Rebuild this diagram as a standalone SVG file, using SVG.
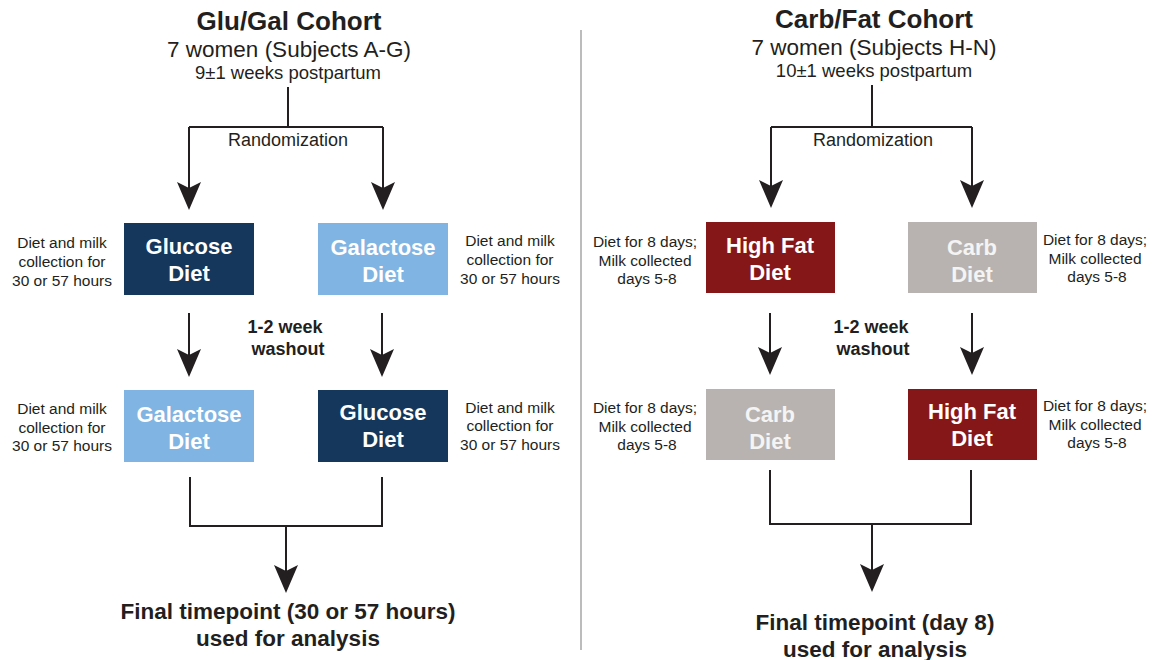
<svg xmlns="http://www.w3.org/2000/svg" width="1162" height="660" viewBox="0 0 1162 660">
<defs>
<marker id="ah" markerUnits="userSpaceOnUse" markerWidth="28" markerHeight="24" viewBox="0 0 28 24" refX="18" refY="12" orient="auto">
<path d="M0,0 L28,12 L0,24 L6,12 Z" fill="#231f20"/>
</marker>
<style>
text{font-family:"Liberation Sans",Arial,sans-serif;fill:#231f20;text-anchor:middle}
.title{font-size:26px;font-weight:bold}
.sub{font-size:22.5px}
.sub2{font-size:18.5px}
.rand{font-size:18px}
.side{font-size:15.5px}
.wash{font-size:18px;font-weight:bold}
.final{font-size:22.5px;font-weight:bold}
.bt{font-size:22px;font-weight:bold;fill:#ffffff}
.bt2{font-size:22px;font-weight:bold;fill:#f4f4f4}
.glu{fill:#15375c}
.gal{fill:#80b4e2}
.fat{fill:#861719}
.carb{fill:#b8b3b0}
.ln{fill:none;stroke:#231f20;stroke-width:2}
.arr{fill:none;stroke:#231f20;stroke-width:2;marker-end:url(#ah)}
</style>
</defs>
<g id="divider"><line x1="581" y1="30" x2="581" y2="650" stroke="#a6a6a6" stroke-width="1.5"/></g>

<g id="header-glugal">
<text class="title" x="289" y="30">Glu/Gal Cohort</text>
<text class="sub" x="289" y="57">7 women (Subjects A-G)</text>
<text class="sub2" x="288" y="79">9±1 weeks postpartum</text>
<text class="rand" x="288" y="146">Randomization</text>
</g>
<g id="header-carbfat">
<text class="title" x="874" y="28">Carb/Fat Cohort</text>
<text class="sub" x="874" y="55">7 women (Subjects H-N)</text>
<text class="sub2" x="874" y="77">10±1 weeks postpartum</text>
<text class="rand" x="873" y="146">Randomization</text>
</g>

<g id="connectors">
<path class="ln" d="M288,87 V127 M189,127 H383"/>
<path class="arr" d="M189,127 V200"/>
<path class="arr" d="M383,127 V200"/>
<path class="arr" d="M189,313 V367"/>
<path class="arr" d="M382,313 V367"/>
<path class="ln" d="M190,477 V526 H382 V477"/>
<path class="arr" d="M286,526 V583"/>

<path class="ln" d="M872,85 V127 M771,127 H972"/>
<path class="arr" d="M771,127 V198"/>
<path class="arr" d="M972,127 V198"/>
<path class="arr" d="M770,313 V365"/>
<path class="arr" d="M972,313 V365"/>
<path class="ln" d="M770,470 V524 H971 V470"/>
<path class="arr" d="M872,524 V582"/>
</g>

<g id="glu1"><rect class="glu" x="124" y="223" width="130" height="72"/><text class="bt" x="189" y="254">Glucose</text><text class="bt" x="189" y="281">Diet</text></g>
<g id="gal1"><rect class="gal" x="318" y="223" width="130" height="72"/><text class="bt" x="383" y="255">Galactose</text><text class="bt" x="383" y="282">Diet</text></g>
<g id="gal2"><rect class="gal" x="124" y="390" width="130" height="72"/><text class="bt" x="189" y="422">Galactose</text><text class="bt" x="189" y="449">Diet</text></g>
<g id="glu2"><rect class="glu" x="318" y="390" width="130" height="72"/><text class="bt" x="383" y="420">Glucose</text><text class="bt" x="383" y="447">Diet</text></g>

<g id="fat1"><rect class="fat" x="706" y="222" width="129" height="71"/><text class="bt" x="770" y="253">High Fat</text><text class="bt" x="770" y="280">Diet</text></g>
<g id="carb1"><rect class="carb" x="908" y="222" width="129" height="71"/><text class="bt2" x="972" y="255">Carb</text><text class="bt2" x="972" y="282">Diet</text></g>
<g id="carb2"><rect class="carb" x="706" y="389" width="129" height="71"/><text class="bt2" x="770" y="422">Carb</text><text class="bt2" x="770" y="449">Diet</text></g>
<g id="fat2"><rect class="fat" x="908" y="389" width="129" height="71"/><text class="bt" x="972" y="419">High Fat</text><text class="bt" x="972" y="446">Diet</text></g>

<g id="side-texts" class="side">
<text class="side" x="62" y="248">Diet and milk</text><text class="side" x="62" y="267">collection for</text><text class="side" x="62" y="286">30 or 57 hours</text>
<text class="side" x="510" y="246">Diet and milk</text><text class="side" x="510" y="265">collection for</text><text class="side" x="510" y="284">30 or 57 hours</text>
<text class="side" x="62" y="414">Diet and milk</text><text class="side" x="62" y="433">collection for</text><text class="side" x="62" y="451">30 or 57 hours</text>
<text class="side" x="510" y="413">Diet and milk</text><text class="side" x="510" y="431">collection for</text><text class="side" x="510" y="450">30 or 57 hours</text>

<text class="side" x="645" y="247">Diet for 8 days;</text><text class="side" x="645" y="266">Milk collected</text><text class="side" x="647" y="284">days 5-8</text>
<text class="side" x="1095" y="245">Diet for 8 days;</text><text class="side" x="1095" y="264">Milk collected</text><text class="side" x="1097" y="282">days 5-8</text>
<text class="side" x="645" y="413">Diet for 8 days;</text><text class="side" x="645" y="432">Milk collected</text><text class="side" x="647" y="450">days 5-8</text>
<text class="side" x="1095" y="411">Diet for 8 days;</text><text class="side" x="1095" y="430">Milk collected</text><text class="side" x="1097" y="448">days 5-8</text>
</g>

<g id="washout-glugal"><text class="wash" x="285" y="333">1-2 week</text><text class="wash" x="288" y="355">washout</text></g>
<g id="washout-carbfat"><text class="wash" x="871" y="333">1-2 week</text><text class="wash" x="873" y="355">washout</text></g>

<g id="final-glugal"><text class="final" x="288" y="619">Final timepoint (30 or 57 hours)</text><text class="final" x="288" y="646">used for analysis</text></g>
<g id="final-carbfat"><text class="final" x="875" y="630">Final timepoint (day 8)</text><text class="final" x="875" y="657">used for analysis</text></g>
</svg>
